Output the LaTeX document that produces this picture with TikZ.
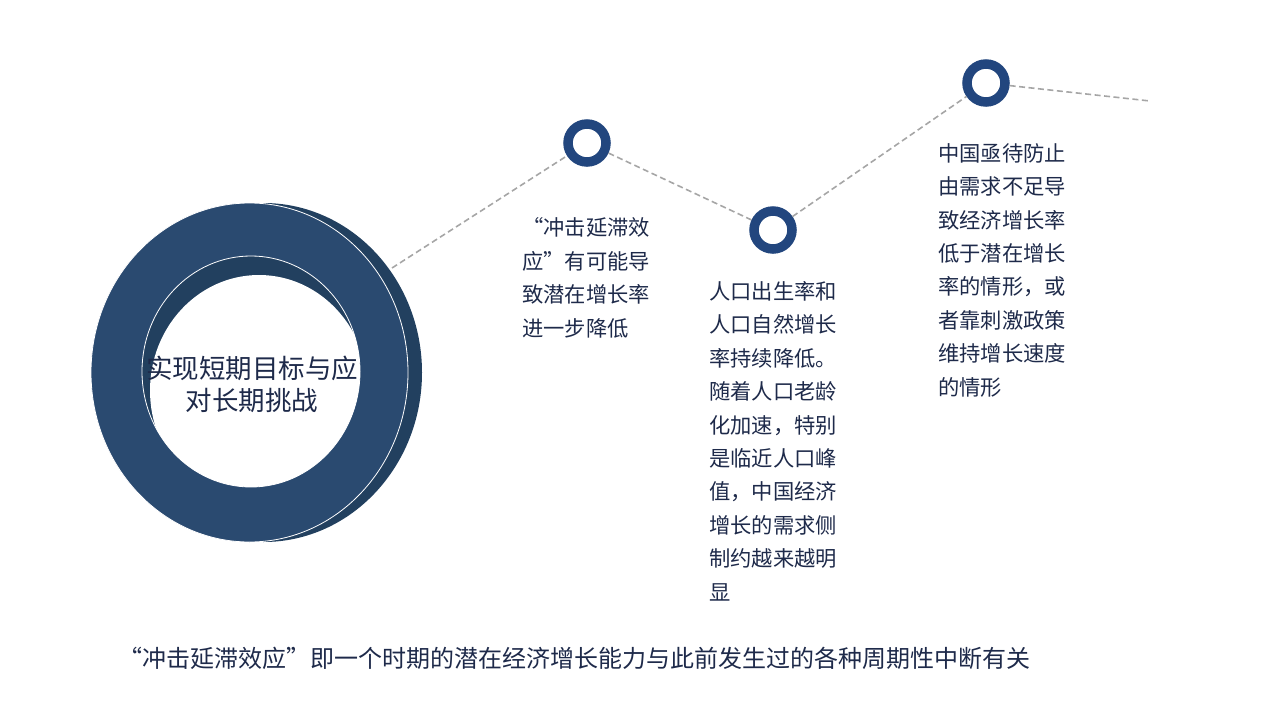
\documentclass[tikz,border=0pt]{standalone}
\usepackage{fontspec}
\setmainfont{Noto Sans CJK SC}
\usetikzlibrary{positioning}

\definecolor{ringface}{HTML}{2A4A70}
\definecolor{ringside}{HTML}{22405F}
\definecolor{dotblue}{HTML}{22467E}
\definecolor{linegray}{HTML}{A6A6A6}
\definecolor{textnavy}{HTML}{1E2A4A}

\begin{document}
\begin{tikzpicture}[x=1pt,y=-1pt,every node/.style={inner sep=0pt,text=textnavy},
    dot/.style={circle, draw=dotblue, fill=white, line width=9.5pt, minimum size=38pt, outer sep=4.75pt},
    link/.style={draw=linegray, line width=1.6pt, dash pattern=on 6pt off 3.5pt},
    para/.style={font=\fontsize{21.3}{33.4}\selectfont, align=left, anchor=base west}]
    \useasboundingbox (0,0) rectangle (1280,720);

    % Big ring: side, front face, inner wall and hole
    \fill[ringside] (263.5,372.5) ellipse [x radius=158.5, y radius=169.5];
    \filldraw[fill=ringface, draw=white, line width=0.8pt] (249.5,372.5) ellipse [x radius=158.5, y radius=169.5];
    \filldraw[fill=ringside, draw=white, line width=0.8pt] (251,371.5) ellipse [x radius=109, y radius=115.5];
    \begin{scope}
        \clip (251,371.5) ellipse [x radius=109, y radius=115.5];
        \fill[white] (259,390.5) ellipse [x radius=109, y radius=115.5];
    \end{scope}
    \node[font=\fontsize{26.5}{32}\selectfont, align=center] (title) at (252,384) {实现短期目标与应\\对长期挑战};

    % Milestones on the dashed line
    \node[dot] (dotA) at (587,143) {};
    \node[dot] (dotB) at (773,230) {};
    \node[dot] (dotC) at (986,83) {};
    \coordinate (ringtip) at (392,268);
    \coordinate (lineend) at (1150,101);

    % Dashed connections
    \draw[link] (ringtip) -- (dotA);
    \draw[link] (dotA) -- (dotB);
    \draw[link] (dotB) -- (dotC);
    \draw[link] (dotC) -- (lineend);

    % Notes below the milestones (anchored at the last baseline)
    \node[para] (noteA) at (522,336) {“冲击延滞效\\应”有可能导\\致潜在增长率\\进一步降低};
    \node[para] (noteB) at (709,600) {人口出生率和\\人口自然增长\\率持续降低。\\随着人口老龄\\化加速，特别\\是临近人口峰\\值，中国经济\\增长的需求侧\\制约越来越明\\显};
    \node[para] (noteC) at (938,395) {中国亟待防止\\由需求不足导\\致经济增长率\\低于潜在增长\\率的情形，或\\者靠刺激政策\\维持增长速度\\的情形};

    % Caption
    \node[font=\fontsize{24}{28}\selectfont, anchor=base west] (caption) at (118,667) {“冲击延滞效应”即一个时期的潜在经济增长能力与此前发生过的各种周期性中断有关};
\end{tikzpicture}
\end{document}
